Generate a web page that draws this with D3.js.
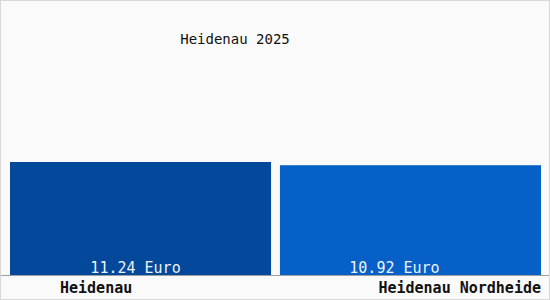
<!DOCTYPE html>
<html>
<head>
<meta charset="utf-8">
<script src="https://cdn.jsdelivr.net/npm/d3@7"></script>
<style>
  body { margin: 0; background: #fff; }
  svg { display: block; }
</style>
</head>
<body>
<svg id="chart"></svg>
<script>
const width = 550, height = 300;

//data
const places = ["Heidenau", "Heidenau Nordheide"];
const wages = [11.24, 10.92];
const title = "Heidenau 2025";
const barcolor = ["#03489a", "#0660c8"];

const svg = d3.select("#chart")
    .attr("width", width)
    .attr("height", height);

// background + thin frame
svg.append("rect")
    .attr("x", 0.5).attr("y", 0.5)
    .attr("width", width - 1).attr("height", height - 1)
    .attr("fill", "#fafafa")
    .attr("stroke", "#d8d8d8");

const x = d3.scaleBand()
    .domain(places)
    .range([10, 541])
    .paddingInner(0.033);

const y = d3.scaleLinear()
    .domain([0, 11.24])
    .range([275, 162]);

const font = "'DejaVu Sans Mono', 'Liberation Mono', monospace";

svg.append("text")
    .attr("x", 235)
    .attr("y", 44)
    .attr("text-anchor", "middle")
    .style("font-family", font)
    .style("font-size", "14px")
    .style("fill", "#111")
    .text(title);

svg.selectAll(".bar")
    .data(wages)
    .enter().append("rect")
    .attr("class", "bar")
    .attr("x", (d, i) => x(places[i]))
    .attr("y", d => y(d))
    .attr("width", x.bandwidth())
    .attr("height", d => y(0) - y(d))
    .style("fill", (d, i) => barcolor[i]);

//value labels at the foot of each bar
svg.selectAll(".val")
    .data(wages)
    .enter().append("text")
    .attr("class", "val")
    .attr("x", (d, i) => x(places[i]) + x.bandwidth() / 2 - (i == 0 ? 5 : 16))
    .attr("y", 273)
    .attr("text-anchor", "middle")
    .style("font-family", font)
    .style("font-size", "15px")
    .style("fill", "#eef2f8")
    .text(d => d.toFixed(2) + " Euro");

// baseline
svg.append("line")
    .attr("x1", 1).attr("x2", width - 1)
    .attr("y1", y(0) + 0.5).attr("y2", y(0) + 0.5)
    .attr("stroke", "#a0a0a0");

// category labels below
svg.selectAll(".cat")
    .data(places)
    .enter().append("text")
    .attr("class", "cat")
    .attr("x", (d, i) => i == 0 ? x(d) + 50 : x(d) + x.bandwidth())
    .attr("y", 293)
    .attr("text-anchor", (d, i) => i == 0 ? "start" : "end")
    .style("font-family", font)
    .style("font-size", "15px")
    .style("font-weight", "bold")
    .style("fill", "#111")
    .text(d => d);
</script>
</body>
</html>
